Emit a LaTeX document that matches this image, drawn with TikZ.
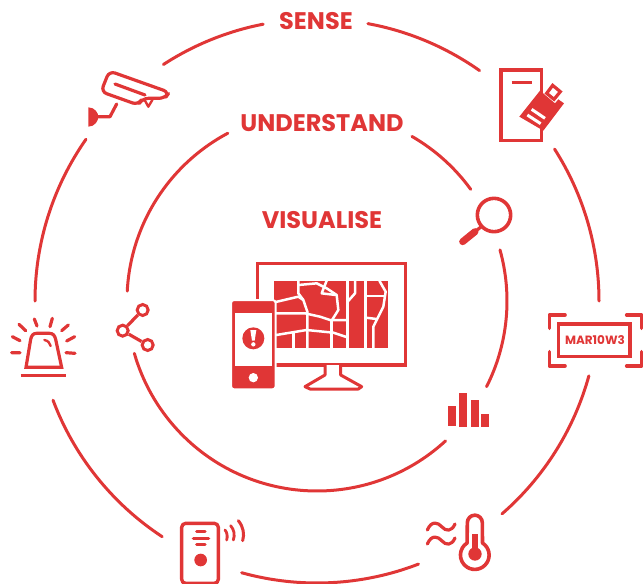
\documentclass[tikz,border=0pt]{standalone}
\usepackage{fontspec}
\setmainfont{Poppins}
\definecolor{rd}{HTML}{E03636}
\tikzset{
 ring/.style={draw=rd,line width=3pt,line cap=round},
 ln/.style={draw=rd,line width=3.2pt,line cap=round,line join=round},
 fl/.style={fill=rd,draw=none},
 street/.style={draw=white,line width=2.5pt,line cap=butt,line join=round},
 title/.style={text=rd,inner sep=0pt,font=\bfseries\fontsize{24}{26}\selectfont},
}
\newcommand{\ringarc}[3]{\draw[ring] (317,301) ++(#2:#1) arc[start angle=#2,end angle=#3,radius=#1];}
\begin{document}
\begin{tikzpicture}[x=1pt,y=-1pt]
\useasboundingbox (0,0) rectangle (643,584);
% outer ring
\ringarc{282}{-79.6}{-54.8}
\ringarc{282}{-32.6}{0}
\ringarc{282}{15.4}{49}
\ringarc{282}{68.9}{105.5}
\ringarc{282}{123.3}{159.4}
\ringarc{282}{180}{215}
\ringarc{282}{237}{259}
% inner ring
\ringarc{190}{-60}{-36}
\ringarc{190}{-15.6}{26.8}
\ringarc{190}{47.4}{164}
\ringarc{190}{183}{242}
% titles
\node[title] (sense) at (316,21) {SENSE};
\node[title] (understand) at (322,123) {UNDERSTAND};
\node[title] (visualise) at (322,220) {VISUALISE};
% monitor and phone
\begin{scope}[shift={(220,250)},scale=1/3]
 \draw[ln,line width=3.4pt,line cap=butt,line join=miter] (112,40) rectangle (556,345);
 \draw[ln,fill=white,line width=3pt] (315,345)--(315,375)--(255,410)--(270,417)--(415,417)--(425,410)--(362,375)--(362,345);
 \fill[rd] (162,92) rectangle (505,295);
 \foreach \p in {
  {(150,160)--(235,140)--(250,150)--(262,185)--(262,295)},
  {(235,92)--(235,130)--(250,150)},
  {(150,190)--(255,190)--(300,200)--(330,210)--(382,210)},
  {(150,258)--(260,240)--(340,248)--(382,262)},
  {(220,250)--(220,295)},
  {(335,212)--(335,295)},
  {(235,105)--(290,100)--(320,115)--(350,135)--(355,180)--(335,212)},
  {(320,92)--(305,130)--(348,135)},
  {(383,155)--(405,130)--(405,92)},
  {(383,92)--(383,295)},
  {(437,92)--(437,295)},
  {(437,138)--(492,138)},
  {(437,203)--(470,207)},
  {(478,92)--(497,125)--(490,170)--(460,230)--(460,295)}}
  {\draw[street] \p;}
 \draw[draw=white,line width=2pt,fill=rd,rounded corners=3pt] (33,150) rectangle (167,418);
 \fill[white] (45,190) rectangle (157,348);
 \fill[rd] (100,265) circle[radius=33];
 \fill[white] (91,240)--(109,240)--(104,272)--(96,272)--cycle;
 \fill[white] (100,283) circle[radius=6.5];
 \fill[white] (100,383) circle[radius=14];
\end{scope}
% camera
\begin{scope}[shift={(80,60)},scale=1/3]
 \draw[ln,rounded corners=6pt] (88,33)--(268,97)--(255,115)--(187,115)--(175,135)--(63,95)--cycle;
 \draw[ln] (105,72)--(195,105);
 \draw[ln,line width=2.4pt] (195,122)--(205,140)--(217,120);
 \draw[ln] (110,132)--(90,170)--(50,170);
 \fill[rd] (25,142) .. controls (45,142) and (55,160) .. (55,170) .. controls (55,182) and (45,200) .. (25,200)--cycle;
\end{scope}
% storage
\begin{scope}[shift={(490,60)},scale=1/3]
 \draw[ln,line cap=butt,line join=miter] (155,105)--(155,30)--(33,30)--(33,242)--(155,242)--(155,208);
 \draw[ln,line cap=butt] (65,68)--(125,68);
 \fill[rd] (88,170)--(150,92)--(195,130)--(205,118)--(222,130)--(160,212)--cycle;
 \draw[draw=rd,line width=3.2pt,fill=white] (188,76)--(211,95)--(192,118)--(170,100)--cycle;
 \draw[draw=white,line width=3pt] (125,148)--(165,175) (112,165)--(152,191);
\end{scope}
% licence plate
\begin{scope}[shift={(540,305)},scale=1/3]
 \draw[ln,line cap=butt,line join=miter] (55,57) rectangle (270,155);
 \node[text=rd,font=\bfseries\fontsize{12}{13}\selectfont,inner sep=0pt] (plate) at (165,105) {MAR10W3};
 \draw[ln,line width=3.6pt] (75,30)--(28,30)--(28,70);
 \draw[ln,line width=3.6pt] (260,30)--(305,30)--(305,70);
 \draw[ln,line width=3.6pt] (28,140)--(28,183)--(75,183);
 \draw[ln,line width=3.6pt] (305,140)--(305,183)--(260,183);
\end{scope}
% thermometer
\begin{scope}[shift={(410,500)},scale=1/3]
 \draw[ln,line width=3.6pt] (172,68) arc[start angle=180,end angle=360,radius=22.5]--(217.5,129)
   arc[start angle=-57.4,end angle=237.4,radius=43]--cycle;
 \fill[rd] (187,102) rectangle (203,150);
 \fill[rd] (195,162) circle[radius=20];
 \draw[ln] (52,90) .. controls (65,60) and (85,68) .. (95,80) .. controls (108,95) and (125,95) .. (135,72);
 \draw[ln] (52,132) .. controls (65,102) and (85,110) .. (95,122) .. controls (108,137) and (125,137) .. (135,114);
\end{scope}
% door sensor
\begin{scope}[shift={(170,510)},scale=1/3]
 \draw[ln,line width=3.4pt,rounded corners=4pt] (35,40) rectangle (145,220);
 \draw[ln] (80,65)--(105,65) (70,85)--(116,85) (80,103)--(105,103);
 \fill[rd] (92,150) circle[radius=19];
 \draw[ln,line width=2.8pt] (165,60) .. controls (172,68) and (173,80) .. (170,90);
 \draw[ln,line width=2.8pt] (182,47) .. controls (193,60) and (195,75) .. (190,90);
 \draw[ln,line width=3pt] (205,32) .. controls (220,50) and (224,72) .. (218,92);
\end{scope}
% alarm and share
\begin{scope}[shift={(0,310)},scale=1/3]
 \draw[ln,line join=miter] (78,172)--(92,88) .. controls (95,75) and (100,70) .. (110,70)--(148,70) .. controls (158,70) and (164,75) .. (167,88)--(185,172)--cycle;
 \draw[ln,line cap=butt,line width=2.8pt] (62,197)--(198,197);
 \draw[ln] (57,43)--(77,62) (103,27)--(111,48) (157,25)--(150,50) (205,45)--(185,62)
  (37,80)--(60,92) (224,80)--(200,93) (35,128)--(60,128) (198,128)--(225,130);
 \draw[ln,line width=2.4pt] (133,90) .. controls (145,92) and (150,100) .. (152,108);
 \node[circle,draw=rd,line width=3pt,minimum size=11pt,inner sep=0pt] (shareA) at (368,62) {};
 \node[circle,draw=rd,line width=3pt,minimum size=11pt,inner sep=0pt] (shareB) at (428,0) {};
 \node[circle,draw=rd,line width=3pt,minimum size=11pt,inner sep=0pt] (shareC) at (443,105) {};
 \draw[ln,line cap=butt] (shareA)--(shareB);
 \draw[ln,line cap=butt] (shareA)--(shareC);
\end{scope}
% magnifier
\begin{scope}[shift={(440,185)},scale=1/3]
 \draw[ln,line width=3.6pt] (162,90) circle[radius=50];
 \draw[ln,line cap=butt] (105,140)--(125,124);
 \draw[ln,line width=7pt] (68,170)--(105,140);
\end{scope}
% bars
\begin{scope}[shift={(435,380)},scale=1/3]
 \fill[rd] (40,78) rectangle (63,138);
 \fill[rd] (72,39) rectangle (96,140);
 \fill[rd] (108,60) rectangle (132,140);
 \fill[rd] (138,102) rectangle (162,140);
\end{scope}
\end{tikzpicture}
\end{document}
